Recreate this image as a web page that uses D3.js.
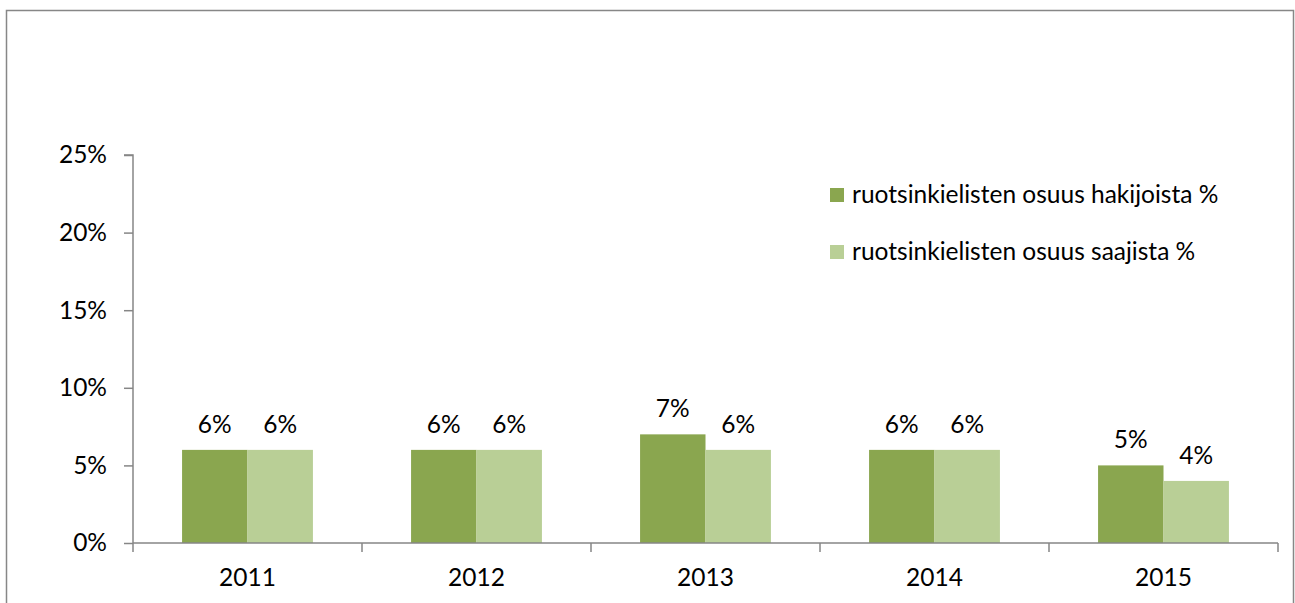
<!DOCTYPE html>
<html>
<head>
<meta charset="utf-8">
<script src="https://cdn.jsdelivr.net/npm/d3@7"></script>
<style>
  html, body { margin: 0; padding: 0; background: #fff; }
  svg { display: block; }
  text { font-family: Lato, "Open Sans", sans-serif; fill: #000; }
</style>
</head>
<body>
<svg id="chart" width="1295" height="603"></svg>
<script>
// Share of Swedish-speakers among applicants and recipients, by year
const years = ["2011", "2012", "2013", "2014", "2015"];
const seriesNames = ["ruotsinkielisten osuus hakijoista %", "ruotsinkielisten osuus saajista %"];
const hakijat = [6, 6, 7, 6, 5];
const saajat = [6, 6, 6, 6, 4];
const yTicks = [0, 5, 10, 15, 20, 25];
const colors = ["#8aa64f", "#b9cf96"];

const svg = d3.select("#chart");
const plot = { left: 133, right: 1278, top: 155, bottom: 543 };
const fontSize = 24.5;
const fontFamily = "Lato, 'Open Sans', sans-serif";

// outer frame
svg.append("rect")
  .attr("x", 6.5).attr("y", 10.5)
  .attr("width", 1287).attr("height", 620)
  .attr("fill", "none").attr("stroke", "#878787").attr("stroke-width", 1.5);

const x0 = d3.scaleBand().domain(years).range([plot.left, plot.right]).padding(0);
const groupW = x0.bandwidth() / 1.75; // gap width 75%
const x1 = d3.scaleBand().domain([0, 1]).range([0, groupW]).padding(0);
const y = d3.scaleLinear().domain([0, 25]).range([plot.bottom, plot.top]);

const rows = years.map((yr, i) => ({ year: yr, values: [hakijat[i], saajat[i]] }));

// bars
const groups = svg.append("g").selectAll("g").data(rows).join("g")
  .attr("transform", d => `translate(${x0(d.year) + (x0.bandwidth() - groupW) / 2},0)`);

groups.selectAll("rect").data(d => d.values.map((v, k) => ({ v, k }))).join("rect")
  .attr("x", d => x1(d.k))
  .attr("y", d => y(d.v))
  .attr("width", x1.bandwidth())
  .attr("height", d => y(0) - y(d.v))
  .attr("fill", d => colors[d.k]);

// value labels
groups.selectAll("text.val").data(d => d.values.map((v, k) => ({ v, k }))).join("text")
  .attr("class", "val")
  .attr("x", d => x1(d.k) + x1.bandwidth() / 2)
  .attr("y", d => y(d.v) - 17)
  .attr("text-anchor", "middle")
  .attr("font-size", fontSize)
  .text(d => d.v + "%");

// y axis
const yAxis = svg.append("g")
  .attr("transform", `translate(${plot.left},0)`)
  .call(d3.axisLeft(y).tickValues(yTicks).tickFormat(d => d + "%").tickSize(9).tickPadding(17).tickSizeOuter(9));
yAxis.selectAll("text").attr("font-size", fontSize).attr("font-family", fontFamily).attr("fill", "#000");

// x axis
const xAxis = svg.append("g")
  .attr("transform", `translate(0,${plot.bottom})`)
  .call(d3.axisBottom(x0).tickSize(0).tickPadding(26));
xAxis.selectAll("text").attr("font-size", fontSize).attr("font-family", fontFamily).attr("fill", "#000");
// category boundary tick marks
xAxis.selectAll("line.bound").data(years.map(yr => x0(yr)).concat([plot.right])).join("line")
  .attr("class", "bound")
  .attr("x1", d => d).attr("x2", d => d)
  .attr("y1", 0).attr("y2", 9);

svg.selectAll(".domain, .tick line, line.bound").attr("stroke", "#868686").attr("stroke-width", 1.5);
yAxis.select(".domain").attr("d", `M${-9},${plot.top}H0V${plot.bottom}`);
xAxis.select(".domain").attr("d", `M${plot.left},0H${plot.right}`);

// legend
const legend = svg.append("g").selectAll("g").data(seriesNames).join("g")
  .attr("transform", (d, i) => `translate(830,${188 + i * 57})`);
legend.append("rect").attr("width", 14).attr("height", 14).attr("fill", (d, i) => colors[i]);
legend.append("text").attr("x", 22).attr("y", 15).attr("font-size", fontSize).text(d => d);
</script>
</body>
</html>
